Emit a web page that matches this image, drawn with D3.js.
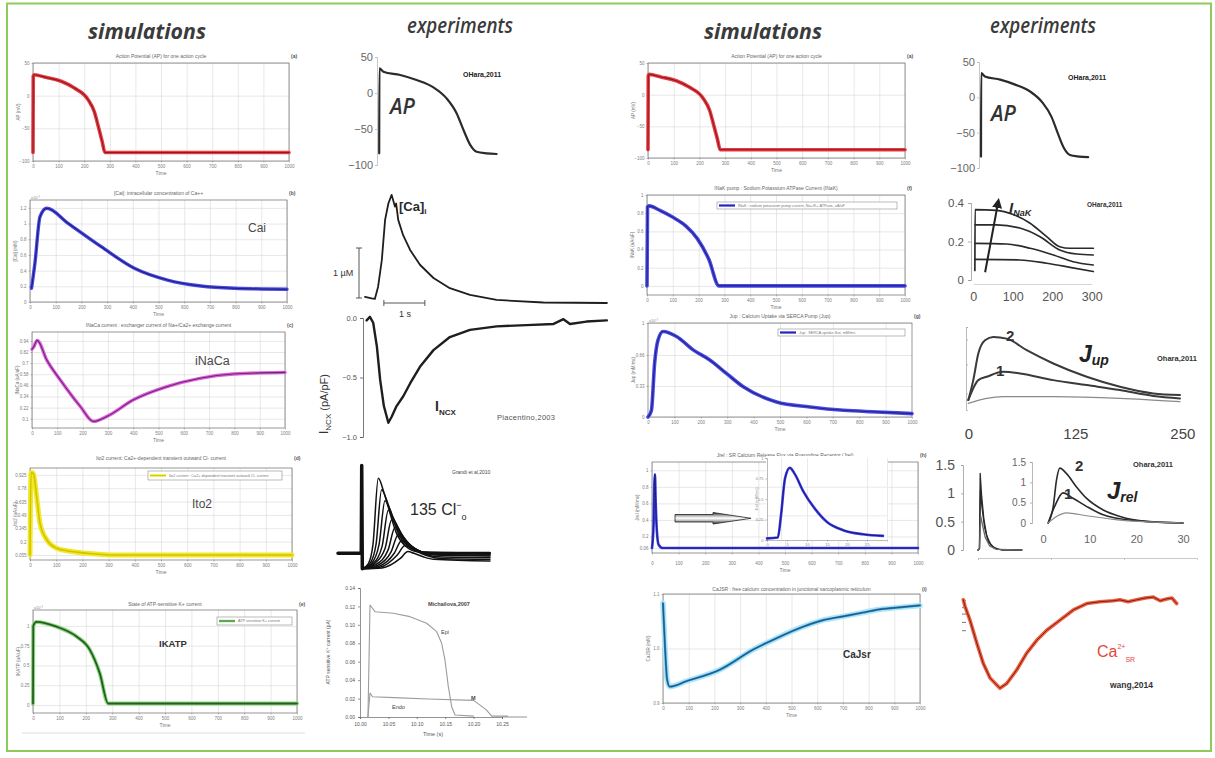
<!DOCTYPE html>
<html>
<head>
<meta charset="utf-8">
<title>simulations vs experiments</title>
<script src="https://cdn.jsdelivr.net/npm/d3@7/dist/d3.min.js"></script>
<style>
  body { margin: 0; background: #fff; }
  svg { display: block; font-family: "Liberation Sans", Arial, sans-serif; }
</style>
</head>
<body>
<svg id="chart" width="1215" height="758"></svg>
<script>
// ---------- values ----------
const columnTitles = ['simulations', 'experiments', 'simulations', 'experiments'];

// simulation traces, t in ms (0..1000)
const simApData = [[0,-87],[1,30],[5,32],[50,28],[110,22],[160,12],[215,-6],[240,-25],[255,-47],[270,-70],[281,-87],[1000,-87]];
const simCaiData = [[6,0.175],[19,0.49],[39,1.087],[65,1.194],[148,1.003],[277,0.705],[406,0.43],[535,0.28],[665,0.204],[794,0.175],[1000,0.162]];
const simNaCaData = [[0,0.85],[7,0.875],[20,0.946],[59,0.73],[112,0.518],[191,0.232],[243,0.071],[296,0.125],[401,0.304],[533,0.446],[664,0.536],[796,0.582],[1000,0.6]];
const simIto2Data = [[0,0.055],[4,0.95],[13,0.94],[25,0.7],[38,0.4],[64,0.22],[102,0.127],[140,0.1],[217,0.073],[306,0.055],[1000,0.055]];
const simIKatpData = [[0,0.02],[1,1.0],[13,1.05],[89,0.99],[165,0.865],[215,0.7],[253,0.4],[285,0.02],[1000,0.02]];
const simNaKData = [[0,0],[2,0.87],[8,0.88],[50,0.83],[97,0.76],[150,0.66],[195,0.52],[240,0.29],[279,0],[1000,0]];
const simJupData = [[0,0],[13,0.071],[25,0.571],[38,0.82],[57,0.91],[108,0.857],[171,0.714],[234,0.607],[297,0.464],[361,0.321],[487,0.16],[614,0.107],[741,0.071],[867,0.054],[1000,0.036]];
const simJrelData = [[0,0.06],[6,0.35],[9,0.85],[11,0.95],[14,0.6],[18,0.28],[25,0.1],[40,0.06],[1000,0.06]];
const simJrelZoomData = [[0,0.02],[2.7,0.03],[3.5,0.3],[4.5,0.75],[5.7,0.88],[7,0.8],[9,0.6],[12,0.38],[15,0.22],[19,0.12],[24,0.07],[29,0.05]];
const simCaJsrData = [[0,1.083],[6.5,1.016],[16,0.943],[26,0.93],[91,0.94],[221,0.961],[351,0.998],[442,1.019],[545,1.04],[623,1.052],[701,1.059],[779,1.066],[831,1.071],[909,1.075],[1000,1.079]];

// experiments
const expApData = [[5.5,-83.8],[6,34.3],[16,29.6],[58,25],[99,18],[141,7.9],[174,-7.4],[199,-28],[216,-51],[233,-72],[249,-81.5],[274,-83.8],[299,-84.7]];
const expApTicks = [50, 0, -50, -100];

const expCaiData = [[0,0.12],[0.16,0.09],[0.24,0.08],[0.32,0.32],[0.41,0.84],[0.49,1.63],[0.57,1.95],[0.65,2.12],[0.73,1.89],[0.76,1.95],[0.81,1.63],[0.93,1.33],[1.1,1.04],[1.34,0.75],[1.67,0.49],[2.07,0.29],[2.56,0.16],[3.21,0.06],[4.35,0.01],[5.9,0]];
const expNcxData = [[0.04,-0.02],[0.12,0.01],[0.2,-0.04],[0.29,-0.24],[0.37,-0.52],[0.46,-0.74],[0.57,-0.88],[0.65,-0.83],[0.77,-0.74],[0.93,-0.66],[1.1,-0.55],[1.34,-0.41],[1.67,-0.27],[2.07,-0.16],[2.56,-0.1],[3.21,-0.07],[3.94,-0.06],[4.6,-0.05],[4.84,-0.01],[5.0,-0.05],[5.4,-0.03],[5.9,-0.02]];
const expNcxTicks = [0, -0.5, -1];

const clLead = [[0,0],[15.3,0],[15.6,5.1],[16,-0.9]];
const clTraces = [
  [[16,-0.9],[20,-0.6],[23,0.5],[26.5,4.36],[30,3.6],[33,2.7],[38.5,1.16],[45,0.38],[52,0.09],[60,0.05],[100,0.05]],
  [[16,-0.9],[21,-0.6],[25,0.5],[28.7,3.7],[32,3.1],[35,2.3],[40.5,1.0],[47,0.35],[54,0.08],[100,0.02]],
  [[16,-0.9],[22,-0.6],[27,0.5],[30.9,3.05],[34,2.6],[37,1.9],[42.5,0.85],[49,0.3],[56,0.06],[100,0]],
  [[16,-0.9],[23,-0.6],[29,0.4],[33.1,2.5],[36,2.1],[39,1.6],[44.5,0.7],[51,0.22],[58,0.04],[100,-0.02]],
  [[16,-0.9],[24,-0.6],[31,0.3],[35.3,1.95],[38,1.7],[41,1.25],[46.5,0.55],[53,0.15],[60,0],[100,-0.05]],
  [[16,-0.9],[25,-0.65],[33,0.2],[37.5,1.5],[40,1.3],[43,0.95],[48.5,0.4],[55,0.08],[62,-0.05],[100,-0.1]],
  [[16,-0.9],[26,-0.7],[35,0.1],[39.7,1.1],[42,0.95],[45,0.7],[50.5,0.28],[57,0],[64,-0.1],[100,-0.15]],
  [[16,-0.9],[27,-0.75],[37,0],[41.9,0.75],[44,0.65],[47,0.45],[52.5,0.15],[59,-0.1],[66,-0.2],[100,-0.25]],
  [[16,-0.9],[28,-0.8],[39,-0.1],[44.1,0.45],[46,0.4],[49,0.25],[54.5,0],[61,-0.2],[68,-0.3],[100,-0.35]],
  [[16,-0.9],[29,-0.85],[41,-0.3],[46,0.1],[50,0],[56,-0.2],[63,-0.35],[100,-0.45]]
];

const katpEpiData = [[10.014,0],[10.0176,0.1216],[10.0264,0.1143],[10.0586,0.1126],[10.088,0.1089],[10.1174,0.1017],[10.135,0.0926],[10.1438,0.08],[10.1496,0.0619],[10.1555,0.0329],[10.1614,0.0112],[10.1673,0.0022],[10.2,0.001]];
const katpEndoData = [[10.014,0],[10.0176,0.026],[10.022,0.022],[10.06,0.021],[10.12,0.0195],[10.2,0.018],[10.222,0.008],[10.232,0.001],[10.26,0.001]];
const katpYTicks = [0, 0.02, 0.04, 0.06, 0.08, 0.10, 0.12, 0.14];
const katpXTicks = [10.00, 10.05, 10.10, 10.15, 10.20, 10.25];

const nakCurves = [
  [[4,0.05],[4.5,0.366],[59,0.362],[101,0.34],[144,0.295],[186,0.225],[219,0.173],[245,0.165],[304,0.165]],
  [[4.5,0.286],[59,0.286],[118,0.27],[169,0.225],[219,0.156],[262,0.135],[304,0.13]],
  [[4.5,0.19],[84,0.187],[144,0.165],[203,0.13],[253,0.095],[304,0.078]],
  [[4.5,0.107],[118,0.104],[186,0.087],[245,0.066],[304,0.044]]
];
const nakArrow = [[30,0.04],[63,0.405]];
const nakYTicks = [0, 0.2, 0.4];
const nakXTicks = [0, 100, 200, 300];

const jupCurves = [
  [[0,0.12],[5.8,0.36],[11.7,0.68],[19.5,0.84],[29.2,0.88],[44.9,0.86],[68.2,0.72],[99.3,0.56],[138.3,0.4],[177.2,0.28],[216.1,0.2],[247.3,0.18]],
  [[0,0.12],[11.7,0.36],[21.5,0.4],[40.9,0.46],[60.4,0.44],[99.3,0.36],[138.3,0.3],[177.2,0.24],[216.1,0.17],[247.3,0.14]],
  [[0,0.08],[21.5,0.14],[40.9,0.16],[99.3,0.16],[177.2,0.14],[247.3,0.1]]
];
const jupXTicks = [0, 125, 250];

const jrelSpikes = [
  [[0,0],[2,0.02],[3,1.35],[5,0.95],[8,0.55],[12,0.25],[18,0.08],[27,0.01],[60,0]],
  [[0,0],[2,0.02],[3.3,1.05],[5.5,0.75],[9,0.4],[14,0.15],[22,0.04],[32,0],[60,0]],
  [[0,0],[2,0.02],[3.6,0.6],[6,0.45],[10,0.22],[16,0.07],[25,0.01],[60,0]]
];
const jrelInsetCurves = [
  [[1.14,0],[2.2,0.41],[2.9,1.06],[3.6,1.35],[5,1.22],[7.1,0.9],[9.3,0.61],[12.9,0.32],[16.5,0.16],[22.1,0.04],[30,0]],
  [[1.1,0],[2.5,0.41],[4.3,0.74],[6.4,0.61],[9.3,0.41],[12.9,0.2],[17.9,0.08],[30,0]],
  [[1.1,0],[2.9,0.16],[5,0.25],[9.3,0.18],[16.5,0.07],[30,0]]
];
const jrelYTicks = [0, 0.5, 1, 1.5];
const jrelInsetXTicks = [0, 10, 20, 30];

const caSrData = [[0,0.98],[8,0.91],[31,0.76],[63,0.51],[93,0.29],[125,0.13],[171,0.02],[203,0.07],[250,0.22],[296,0.4],[343,0.54],[390,0.65],[452,0.76],[514,0.87],[577,0.94],[639,0.96],[700,0.97],[732,0.98],[770,0.96],[810,0.98],[850,1.0],[888,1.01],[920,0.97],[950,0.99],[975,1.0],[997,0.94]];
const caSrTicks = [0.98, 0.9, 0.83, 0.74, 0.65];

// ---------- drawing ----------
const svg = d3.select('#chart');
svg.append('rect').attr('width', 1215).attr('height', 758).attr('fill', '#fff');
svg.append('rect')
  .attr('x', 7).attr('y', 3.5).attr('width', 1204).attr('height', 747.5)
  .attr('fill', 'none').attr('stroke', '#8ecb58').attr('stroke-width', 2);

const titleSpots = [
  {x: 88, w: 118, y: 39, weight: 700},
  {x: 407, w: 106, y: 33, weight: 600},
  {x: 704, w: 118, y: 39, weight: 700},
  {x: 990, w: 106, y: 33, weight: 600}
];
columnTitles.forEach((t, i) => {
  const s = titleSpots[i];
  svg.append('text')
    .attr('x', s.x).attr('y', s.y)
    .attr('textLength', s.w).attr('lengthAdjust', 'spacingAndGlyphs')
    .attr('font-family', '"Open Sans", "Noto Sans", sans-serif')
    .attr('font-style', 'italic').attr('font-weight', s.weight)
    .attr('font-size', 21).attr('fill', '#3b3b3b')
    .text(t);
});

function trace(g, data, x, y, strokes, curve) {
  const line = d3.line().x(d => x(d[0])).y(d => y(d[1])).curve(curve || d3.curveMonotoneX);
  strokes.forEach(s => {
    g.append('path').datum(data)
      .attr('d', line)
      .attr('fill', 'none')
      .attr('stroke', s[0]).attr('stroke-width', s[1])
      .attr('stroke-linejoin', 'round').attr('stroke-linecap', 'round');
  });
}

function label(g, x, y, parts, attrs) {
  const t = g.append('text').attr('x', x).attr('y', y);
  Object.entries(attrs || {}).forEach(([k, v]) => t.attr(k, v));
  let shift = 0;
  parts.forEach(p => {
    const s = t.append('tspan').text(p.t);
    const want = p.dy || 0;
    s.attr('dy', want - shift);
    shift = want;
    if (p.size) s.attr('font-size', p.size);
  });
  return t;
}

// MATLAB-like simulation panel
function simPanel(p) {
  const g = svg.append('g');
  const x = d3.scaleLinear().domain(p.xDomain || [0, 1000]).range([p.x0, p.x1]);
  const y = d3.scaleLinear().domain(p.yDomain).range([p.y1, p.y0]);
  const w = p.x1 - p.x0, h = p.y1 - p.y0;
  const xt = p.xTicks || d3.range(0, 1001, 100);

  g.append('rect').attr('x', p.x0).attr('y', p.y0).attr('width', w).attr('height', h).attr('fill', '#fff');

  g.append('g').attr('class', 'grid').attr('transform', `translate(0,${p.y1})`)
    .call(d3.axisBottom(x).tickValues(p.xGrid || xt).tickSize(-h).tickFormat(''));
  g.append('g').attr('class', 'grid').attr('transform', `translate(${p.x0},0)`)
    .call(d3.axisLeft(y).tickValues(p.yGrid || p.yTicks).tickSize(-w).tickFormat(''));
  g.selectAll('.grid .domain').remove();
  g.selectAll('.grid line').attr('stroke', '#d6d6d6').attr('stroke-width', 0.6);

  g.append('g').attr('class', 'tk').attr('transform', `translate(0,${p.y1})`)
    .call(d3.axisBottom(x).tickValues(xt).tickSize(1.5).tickPadding(p.tickPad || 2).tickFormat(d3.format(p.xFormat || 'd')));
  g.append('g').attr('class', 'tk').attr('transform', `translate(${p.x0},0)`)
    .call(d3.axisLeft(y).tickValues(p.yTicks).tickSize(1.5).tickPadding(2).tickFormat(d3.format(p.yFormat || '')));
  g.selectAll('.tk .domain').remove();
  g.selectAll('.tk text').attr('font-size', 4.5).attr('fill', '#808080');
  g.selectAll('.tk line').attr('stroke', '#777').attr('stroke-width', 0.5);

  g.append('rect').attr('x', p.x0).attr('y', p.y0).attr('width', w).attr('height', h)
    .attr('fill', 'none').attr('stroke', '#6a6a6a').attr('stroke-width', 0.7);

  g.append('text').attr('x', (p.x0 + p.x1) / 2).attr('y', p.y0 - (p.titleDy || 5))
    .attr('text-anchor', 'middle').attr('font-size', 5).attr('fill', '#666').text(p.title);
  g.append('text').attr('x', p.x1 + 2).attr('y', p.y0 - (p.titleDy || 5))
    .attr('font-size', 5).attr('font-weight', 700).attr('fill', '#555').text(p.tag);
  g.append('text').attr('x', (p.x0 + p.x1) / 2).attr('y', p.y1 + (p.tickPad || 2) + 12)
    .attr('text-anchor', 'middle').attr('font-size', 5).attr('fill', '#777').text('Time');
  g.append('text')
    .attr('transform', `translate(${p.x0 - 13},${(p.y0 + p.y1) / 2}) rotate(-90)`)
    .attr('text-anchor', 'middle').attr('font-size', 4.5).attr('fill', '#777').text(p.yLabel);
  if (p.exp) {
    g.append('text').attr('x', p.x0 + 1).attr('y', p.y0 - 1).attr('font-size', 4).attr('fill', '#888').text('x10⁻³');
  }
  if (p.legend) {
    const L = p.legend;
    g.append('rect').attr('x', L.x0).attr('y', L.y0).attr('width', L.x1 - L.x0).attr('height', L.h)
      .attr('fill', '#fff').attr('stroke', '#777').attr('stroke-width', 0.5);
    g.append('line').attr('x1', L.x0 + 2).attr('x2', L.x0 + 18).attr('y1', L.y0 + L.h / 2).attr('y2', L.y0 + L.h / 2)
      .attr('stroke', p.halo).attr('stroke-width', 2.5);
    g.append('line').attr('x1', L.x0 + 2).attr('x2', L.x0 + 18).attr('y1', L.y0 + L.h / 2).attr('y2', L.y0 + L.h / 2)
      .attr('stroke', p.core).attr('stroke-width', 0.8);
    g.append('text').attr('x', L.x0 + 21).attr('y', L.y0 + L.h / 2 + 1.4)
      .attr('font-size', 3.8).attr('fill', '#777').text(L.text);
  }

  const strokes = [[p.halo, p.hw]];
  if (p.mid) strokes.push([p.mid, 2.2]);
  strokes.push([p.core, p.cw || 1.1]);
  trace(g, p.data, x, y, strokes);

  if (p.label) {
    g.append('text').attr('x', p.label.x).attr('y', p.label.y)
      .attr('font-size', p.label.size).attr('font-weight', p.label.bold ? 700 : 400)
      .attr('fill', p.label.fill || '#4a4a4a').text(p.label.text);
  }
  return {g, x, y};
}

const simLayout = [
  {data: simApData, x0: 33, x1: 289, y0: 63, y1: 161, yDomain: [-100, 50], yTicks: [-100, -50, 0, 50],
   halo: '#ec3a42', core: '#861c21', hw: 3.6, title: 'Action Potential (AP) for one action cycle', tag: '(a)', yLabel: 'AP (mV)'},
  {data: simCaiData, x0: 30, x1: 287, y0: 200, y1: 302, yDomain: [0, 1.3], yTicks: [0, 0.2, 0.4, 0.6, 0.8, 1, 1.2],
   halo: '#4848e8', core: '#1e1e72', hw: 3.4, title: '[Cai]: intracellular concentration of Ca++', tag: '(b)', yLabel: '[Cai] (mM)', exp: true,
   label: {text: 'Cai', x: 248, y: 232, size: 12}},
  {data: simNaCaData, x0: 32, x1: 285, y0: 332, y1: 428, yDomain: [0, 1.036], yTicks: [0.1, 0.22, 0.34, 0.46, 0.58, 0.7, 0.82, 0.94],
   halo: '#df5ce0', core: '#6a2a6b', hw: 3.4, title: 'INaCa current : exchanger current of Na+/Ca2+ exchange current', tag: '(c)', yLabel: 'INaCa (uA/uF)',
   label: {text: 'iNaCa', x: 195, y: 365, size: 12.5}},
  {data: simIto2Data, x0: 30, x1: 292, y0: 468, y1: 560, yDomain: [0, 1], yTicks: [0.055, 0.2, 0.345, 0.49, 0.635, 0.78, 0.925],
   halo: '#f1e82a', core: '#d2c200', hw: 5, cw: 1.6, title: 'Ito2 current: Ca2+-dependent transient outward Cl- current', tag: '(d)', yLabel: 'Ito2 (uA/uF)', titleDy: 8,
   legend: {x0: 148, x1: 282, y0: 471, h: 9, text: 'Ito2 current : Ca2+ dependent transient outward Cl- current'},
   label: {text: 'Ito2', x: 192, y: 508, size: 12}},
  {data: simIKatpData, x0: 33, x1: 297, y0: 610, y1: 713, yDomain: [-0.1, 1.2], yTicks: [0, 0.25, 0.5, 0.75, 1],
   halo: '#8fd47f', core: '#1f5f1f', hw: 4, cw: 1.8, title: 'State of ATP-sensitive K+ current', tag: '(e)', yLabel: 'IKATP (uA/uF)', exp: true, titleDy: 4,
   legend: {x0: 217, x1: 292, y0: 617, h: 8, text: 'ATP-sensitive K+ current'},
   label: {text: 'IKATP', x: 159, y: 647, size: 9.5, bold: true, fill: '#333'}},
  {data: simApData, x0: 648, x1: 905, y0: 63, y1: 158, yDomain: [-100, 50], yTicks: [-100, -50, 0, 50],
   halo: '#ec3a42', core: '#861c21', hw: 3.6, title: 'Action Potential (AP) for one action cycle', tag: '(a)', yLabel: 'AP (mV)'},
  {data: simNaKData, x0: 647, x1: 905, y0: 195, y1: 295, yDomain: [-0.1, 1.0], yTicks: [0, 0.2, 0.4, 0.6, 0.8, 1],
   halo: '#4a4ae6', core: '#22228a', hw: 3.6, title: 'INaK pump : Sodium Potassium ATPase Current (INaK)', tag: '(f)', yLabel: 'INaK (uA/uF)',
   legend: {x0: 717, x1: 897, y0: 202, h: 7, text: 'INaK : sodium potassium pump current, Na+/K+ ATPase, uA/uF'}},
  {data: simJupData, x0: 648, x1: 912, y0: 323, y1: 417, yDomain: [0, 1], yTicks: [0, 0.33, 0.66, 1], xGrid: [100, 300, 500, 700, 900],
   halo: '#4a4ae6', core: '#22228a', hw: 3.6, title: 'Jup : Calcium Uptake via SERCA Pump (Jup)', tag: '(g)', yLabel: 'Jup (mM/ms)', exp: true,
   legend: {x0: 778, x1: 905, y0: 329, h: 7, text: 'Jup : SERCA uptake flux, mM/ms'}},
  {data: simJrelData, x0: 652, x1: 918, y0: 462, y1: 553, yDomain: [0, 1.1], yTicks: [0.06, 0.2, 0.4, 0.6, 0.8, 1],
   halo: '#3b3be8', core: '#1a1a7a', hw: 2.6, cw: 1, title: 'Jrel : SR Calcium Release Flux via Ryanodine Receptor (Jrel)', tag: '(h)', yLabel: 'Jrel (mM/ms)', tickPad: 7},
  {data: simCaJsrData, x0: 663, x1: 920, y0: 594, y1: 703, yDomain: [0.9, 1.1], yTicks: [0.9, 1.0, 1.1], yFormat: '.1f',
   halo: '#aee6f7', mid: '#2f86c6', core: '#1d4e70', hw: 5.5, cw: 0.9, title: 'CaJSR : free calcium concentration in junctional sarcoplasmic reticulum', tag: '(i)', yLabel: 'CaJSR (mM)', titleDy: 3,
   label: {text: 'CaJsr', x: 843, y: 658, size: 10, bold: true, fill: '#333'}}
];

simLayout.forEach(simPanel);

// faint frame line under the IKATP panel
svg.append('line').attr('x1', 22).attr('x2', 305).attr('y1', 733).attr('y2', 733).attr('stroke', '#dddddd').attr('stroke-width', 1);

// Jrel zoom inset + arrow
(function () {
  const g = svg.append('g');
  const bx0 = 767, bx1 = 887, by0 = 458, by1 = 540;
  const x = d3.scaleLinear().domain([0, 30]).range([bx0, bx1]);
  const y = d3.scaleLinear().domain([0, 1]).range([by1, by0]);
  g.append('rect').attr('x', bx0 - 1).attr('y', by0 - 2).attr('width', bx1 - bx0 + 2).attr('height', by1 - by0 + 3).attr('fill', '#fff');
  g.append('g').attr('class', 'grid').attr('transform', `translate(0,${by1})`)
    .call(d3.axisBottom(x).tickValues([3.5, 10, 25, 30]).tickSize(-(by1 - by0)).tickFormat(''));
  g.append('g').attr('class', 'grid').attr('transform', `translate(${bx0},0)`)
    .call(d3.axisLeft(y).tickValues([0.3, 0.65]).tickSize(-(bx1 - bx0)).tickFormat(''));
  g.selectAll('.grid .domain').remove();
  g.selectAll('.grid line').attr('stroke', '#dcdcdc').attr('stroke-width', 0.6);
  g.append('g').attr('class', 'tk').attr('transform', `translate(${bx0},0)`)
    .call(d3.axisLeft(y).tickValues([0, 0.25, 0.5, 0.75, 1]).tickSize(1.5).tickPadding(2).tickFormat(d3.format('')));
  g.append('g').attr('class', 'tk').attr('transform', `translate(0,${by1})`)
    .call(d3.axisBottom(x).tickValues([0, 5, 10, 15, 20, 25]).tickSize(1.5).tickPadding(2).tickFormat(d3.format('d')));
  g.selectAll('.tk text').attr('font-size', 4).attr('fill', '#888');
  g.selectAll('.tk .domain').attr('stroke', '#777').attr('stroke-width', 0.5);
  g.selectAll('.tk line').attr('stroke', '#777').attr('stroke-width', 0.5);
  g.append('text').attr('transform', `translate(${bx0 - 9},${(by0 + by1) / 2}) rotate(-90)`)
    .attr('text-anchor', 'middle').attr('font-size', 4).attr('fill', '#888').text('Jrel (mM/ms)');
  trace(g, simJrelZoomData, x, y, [['#3b3be8', 2.6], ['#1a1a7a', 1]]);

  const defs = svg.append('defs');
  const grad = defs.append('linearGradient').attr('id', 'arrowFill').attr('x1', 0).attr('x2', 0).attr('y1', 0).attr('y2', 1);
  [[0, '#2a2a2a'], [0.3, '#bbbbbb'], [0.5, '#ffffff'], [0.7, '#bbbbbb'], [1, '#2a2a2a']]
    .forEach(s => grad.append('stop').attr('offset', s[0]).attr('stop-color', s[1]));
  svg.append('path')
    .attr('d', 'M675,514.5 L713,514.5 L713,512.5 L751,518.3 L713,524 L713,522 L675,522 Z')
    .attr('fill', 'url(#arrowFill)').attr('stroke', '#222').attr('stroke-width', 0.8);
})();

// ----- experiments column 2 -----
function expAxis(g, axis, tx, ty, opts) {
  const a = g.append('g').attr('transform', `translate(${tx},${ty})`).call(axis);
  a.selectAll('text').attr('font-size', opts.size).attr('fill', opts.fill || '#555')
    .attr('font-family', opts.font || null);
  a.select('.domain').attr('stroke', opts.line || '#888').attr('stroke-width', opts.lw || 0.8);
  a.selectAll('line').attr('stroke', opts.line || '#888').attr('stroke-width', opts.lw || 0.8);
  if (opts.noDomain) a.select('.domain').remove();
  return a;
}

// AP (O'Hara 2011), both columns
[
  {ax: 377, xr: 0.4, yTop: 57, yBot: 165, apX: 390, apY: 114, refX: 463, refY: 77},
  {ax: 979, xr: 0.365, yTop: 62, yBot: 168, apX: 991, apY: 121, refX: 1068, refY: 80}
].forEach(c => {
  const g = svg.append('g');
  const x = d3.scaleLinear().domain([0, 400]).range([c.ax, c.ax + 400 * c.xr]);
  const y = d3.scaleLinear().domain([-100, 50]).range([c.yBot, c.yTop]);
  expAxis(g, d3.axisLeft(y).tickValues(expApTicks).tickSize(2).tickPadding(2).tickFormat(d3.format('d')), c.ax, 0,
    {size: 11, fill: '#666', line: '#bbb', lw: 0.8});
  trace(g, expApData, x, y, [['#2b2b2b', 2.2]]);
  label(g, c.apX, c.apY, [{t: 'AP'}], {'font-size': 21, 'font-style': 'italic', 'font-weight': 600, fill: '#333',
    'font-family': '"Open Sans", sans-serif'});
  label(g, c.refX, c.refY, [{t: 'OHara,2011'}], {'font-size': 7, 'font-weight': 700, fill: '#222'});
});

// [Ca]i and INCX (Piacentino 2003)
(function () {
  const g = svg.append('g');
  const x = d3.scaleLinear().domain([0, 6]).range([365, 611]);
  const yc = d3.scaleLinear().domain([0, 1]).range([303, 252]);
  trace(g, expCaiData, x, yc, [['#1e1e1e', 1.8]], d3.curveLinear);
  // scale bars
  g.append('path').attr('d', `M356,${yc(1) - 4} H362 M359,${yc(1) - 4} V${yc(0) - 5} M356,${yc(0) - 5} H362`)
    .attr('stroke', '#444').attr('stroke-width', 0.9).attr('fill', 'none');
  g.append('path').attr('d', `M${x(0.46)},300 V306 M${x(0.46)},303 H${x(1.46)} M${x(1.46)},300 V306`)
    .attr('stroke', '#444').attr('stroke-width', 0.9).attr('fill', 'none');
  label(g, 333, 276, [{t: '1 µM'}], {'font-size': 9, fill: '#333'});
  label(g, 399, 317, [{t: '1 s'}], {'font-size': 9, fill: '#333'});
  label(g, 399, 211, [{t: '[Ca]'}, {t: 'i', size: 8, dy: 3}], {'font-size': 13, 'font-weight': 700, fill: '#2a2a2a'});

  const yn = d3.scaleLinear().domain([-1, 0]).range([437, 318]);
  expAxis(g, d3.axisLeft(yn).tickValues(expNcxTicks).tickSize(3).tickPadding(3).tickFormat(d3.format('.1f')), 363, 0,
    {size: 7.5, fill: '#555', line: '#555', lw: 0.8});
  trace(g, expNcxData, x, yn, [['#1e1e1e', 2.4]], d3.curveLinear);
  label(g, 0, 0, [{t: 'I'}, {t: 'NCX', size: 8, dy: 3}, {t: ' (pA/pF)', size: 11}],
    {'font-size': 12, fill: '#333', transform: 'translate(328,434) rotate(-90)'});
  label(g, 435, 411, [{t: 'I'}, {t: 'NCX', size: 8, dy: 4}], {'font-size': 14, 'font-weight': 700, fill: '#2a2a2a'});
  label(g, 497, 420, [{t: 'Piacentino,2003'}], {'font-size': 7.5, fill: '#555', 'letter-spacing': 0.3});
})();

// Cl- family (Grandi 2010)
(function () {
  const g = svg.append('g');
  const x = d3.scaleLinear().domain([0, 100]).range([338, 490]);
  const y = d3.scaleLinear().domain([0, 5]).range([553.3, 467.3]);
  trace(g, clLead, x, y, [['#111', 3.5]], d3.curveLinear);
  clTraces.forEach(t => trace(g, t, x, y, [['#111', 1.5]]));
  label(g, 410, 515, [{t: '135 Cl'}, {t: '−', size: 9, dy: -7}, {t: 'o', size: 9, dy: 5}], {'font-size': 16, fill: '#2a2a2a'});
  label(g, 452, 474, [{t: 'Grandi et al,2010'}], {'font-size': 5, fill: '#444'});
})();

// IKATP (Michailova 2007)
(function () {
  const g = svg.append('g');
  const x = d3.scaleLinear().domain([10, 10.25]).range([360, 502]);
  const y = d3.scaleLinear().domain([0, 0.14]).range([717, 588]);
  expAxis(g, d3.axisLeft(y).tickValues(katpYTicks).tickSize(2).tickPadding(3).tickFormat(d3.format('.2f')), 360, 0,
    {size: 5, fill: '#555', line: '#666', lw: 0.7});
  expAxis(g, d3.axisBottom(x).tickValues(katpXTicks).tickSize(2).tickPadding(3).tickFormat(d3.format('.2f')), 0, 717,
    {size: 5, fill: '#555', line: '#666', lw: 0.7});
  g.append('line').attr('x1', 502).attr('x2', 527).attr('y1', 717).attr('y2', 717).attr('stroke', '#666').attr('stroke-width', 0.7);
  trace(g, katpEpiData, x, y, [['#9c9c9c', 1.1]], d3.curveLinear);
  trace(g, katpEndoData, x, y, [['#9c9c9c', 1.1]], d3.curveLinear);
  label(g, 433, 736, [{t: 'Time (s)'}], {'font-size': 5.5, fill: '#555', 'text-anchor': 'middle'});
  label(g, 0, 0, [{t: 'ATP sensitive K'}, {t: '+', size: 4, dy: -2}, {t: ' current (pA)', dy: 0}],
    {'font-size': 5, fill: '#555', 'text-anchor': 'middle', transform: 'translate(330,652) rotate(-90)'});
  label(g, 428, 606, [{t: 'Michailova,2007'}], {'font-size': 5.5, 'font-weight': 700, fill: '#444'});
  label(g, 441, 634, [{t: 'Epi'}], {'font-size': 5.5, fill: '#444'});
  label(g, 471, 700, [{t: 'M'}], {'font-size': 5.5, 'font-weight': 700, fill: '#444'});
  label(g, 392, 709, [{t: 'Endo'}], {'font-size': 5.5, fill: '#444'});
})();

// ----- experiments column 4 -----
// INaK (O'Hara 2011)
(function () {
  const g = svg.append('g');
  const x = d3.scaleLinear().domain([0, 300]).range([973.3, 1091.7]);
  const y = d3.scaleLinear().domain([0, 0.4]).range([280, 203]);
  expAxis(g, d3.axisLeft(y).tickValues(nakYTicks).tickSize(3).tickPadding(4).tickFormat(d3.format('')), 971, 0,
    {size: 11.5, fill: '#555', line: '#999', lw: 0.8});
  expAxis(g, d3.axisBottom(x).tickValues(nakXTicks).tickSize(0).tickPadding(8).tickFormat(d3.format('d')), 0, 284,
    {size: 12.5, fill: '#555', line: '#bbb', lw: 0.6});
  nakCurves.forEach(c => trace(g, c, x, y, [['#2a2a2a', 1.7]]));
  g.append('defs').append('marker').attr('id', 'ah').attr('viewBox', '0 0 10 10').attr('refX', 6).attr('refY', 5)
    .attr('markerWidth', 5).attr('markerHeight', 5).attr('orient', 'auto')
    .append('path').attr('d', 'M0,0 L10,5 L0,10 z').attr('fill', '#222');
  g.append('line').attr('x1', x(nakArrow[0][0])).attr('y1', y(nakArrow[0][1]))
    .attr('x2', x(nakArrow[1][0])).attr('y2', y(nakArrow[1][1]))
    .attr('stroke', '#222').attr('stroke-width', 2).attr('marker-end', 'url(#ah)');
  label(g, 1009, 213, [{t: 'I'}, {t: 'NaK', size: 9, dy: 3}],
    {'font-size': 15, 'font-weight': 700, 'font-style': 'italic', fill: '#2a2a2a'});
  label(g, 1087, 207, [{t: 'OHara,2011'}], {'font-size': 6.5, 'font-weight': 700, fill: '#333'});
})();

// Jup (O'Hara 2011)
(function () {
  const g = svg.append('g');
  const x = d3.scaleLinear().domain([0, 250]).range([968.3, 1182.3]);
  const y = d3.scaleLinear().domain([0, 1]).range([410, 327]);
  expAxis(g, d3.axisRight(y).tickValues([0.2, 0.55, 0.85, 1]).tickSize(2).tickFormat(''), 966, 0,
    {size: 1, line: '#aaa', lw: 0.8});
  expAxis(g, d3.axisBottom(x).tickValues(jupXTicks).tickSize(0).tickPadding(12).tickFormat(d3.format('d')), 0, 416,
    {size: 15, fill: '#444', noDomain: true});
  trace(g, jupCurves[0], x, y, [['#3a3a3a', 2]]);
  trace(g, jupCurves[1], x, y, [['#3a3a3a', 2]]);
  trace(g, jupCurves[2], x, y, [['#8a8a8a', 1.2]]);
  label(g, 1006, 341, [{t: '2'}], {'font-size': 15, 'font-weight': 700, fill: '#333'});
  label(g, 996, 376, [{t: '1'}], {'font-size': 15, 'font-weight': 700, fill: '#333'});
  label(g, 1079, 362, [{t: 'J'}, {t: 'up', size: 14, dy: 3}],
    {'font-size': 23, 'font-weight': 700, 'font-style': 'italic', fill: '#222'});
  label(g, 1157, 361, [{t: 'Ohara,2011'}], {'font-size': 7.5, 'font-weight': 700, fill: '#333'});
})();

// Jrel (O'Hara 2011) with inset
(function () {
  const g = svg.append('g');
  const x = d3.scaleLinear().domain([0, 300]).range([978, 1197]);
  const y = d3.scaleLinear().domain([0, 1.5]).range([550, 465]);
  expAxis(g, d3.axisLeft(y).tickValues(jrelYTicks).tickSize(2).tickPadding(6).tickFormat(d3.format('')), 963, 0,
    {size: 14, fill: '#555', line: '#999', lw: 0.8});
  expAxis(g, d3.axisBottom(x).tickValues([0, 100, 200]).tickSize(2).tickFormat(''), 0, 558,
    {size: 1, line: '#bbb', lw: 0.8});
  jrelSpikes.forEach((s, i) => trace(g, s, x, y, [[i === 2 ? '#666' : '#2a2a2a', 1.3]], d3.curveLinear));

  const xi = d3.scaleLinear().domain([0, 30]).range([1043, 1183]);
  const yi = d3.scaleLinear().domain([0, 1.5]).range([523, 462]);
  expAxis(g, d3.axisLeft(yi).tickValues(jrelYTicks).tickSize(2).tickPadding(4).tickFormat(d3.format('')), 1032, 0,
    {size: 10, fill: '#666', line: '#999', lw: 0.7});
  expAxis(g, d3.axisBottom(xi).tickValues(jrelInsetXTicks).tickSize(0).tickPadding(11).tickFormat(d3.format('d')), 0, 524,
    {size: 11, fill: '#666', noDomain: true});
  trace(g, jrelInsetCurves[0], xi, yi, [['#2a2a2a', 1.6]]);
  trace(g, jrelInsetCurves[1], xi, yi, [['#2a2a2a', 1.6]]);
  trace(g, jrelInsetCurves[2], xi, yi, [['#8a8a8a', 1.1]]);
  label(g, 1075, 471, [{t: '2'}], {'font-size': 15, 'font-weight': 700, fill: '#333'});
  label(g, 1064, 499, [{t: '1'}], {'font-size': 15, 'font-weight': 700, fill: '#333'});
  label(g, 1107, 499, [{t: 'J'}, {t: 'rel', size: 14, dy: 3}],
    {'font-size': 24, 'font-weight': 700, 'font-style': 'italic', fill: '#222'});
  label(g, 1133, 467, [{t: 'Ohara,2011'}], {'font-size': 7.5, 'font-weight': 700, fill: '#333'});
})();

// Ca2+ SR (Wang 2014)
(function () {
  const g = svg.append('g');
  const x = d3.scaleLinear().domain([0, 1000]).range([963.3, 1177.3]);
  const y = d3.scaleLinear().domain([0, 1]).range([690, 598]);
  expAxis(g, d3.axisRight(y).tickValues(caSrTicks).tickSize(4).tickFormat(''), 962, 0,
    {size: 1, line: '#555', lw: 0.8, noDomain: true});
  trace(g, caSrData, x, y, [['#f05c3e', 3.6], ['#7a2416', 1]], d3.curveLinear);
  label(g, 1097, 657, [{t: 'Ca'}, {t: '2+', size: 7, dy: -8}, {t: 'SR', size: 7, dy: 5}],
    {'font-size': 16, fill: '#e2473c'});
  label(g, 1110, 688, [{t: 'wang,2014'}], {'font-size': 8.5, 'font-weight': 700, fill: '#333'});
})();
</script>
</body>
</html>
